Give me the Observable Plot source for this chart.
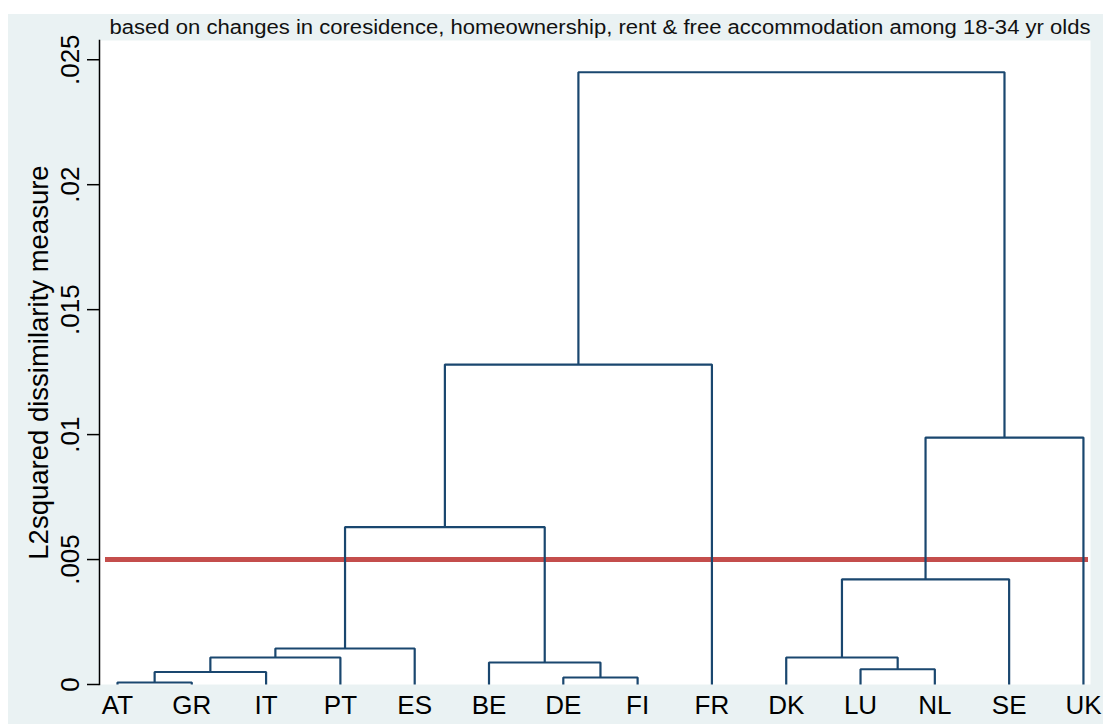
<!DOCTYPE html>
<html>
<head>
<meta charset="utf-8">
<script src="https://cdn.jsdelivr.net/npm/d3@7"></script>
<script src="https://cdn.jsdelivr.net/npm/@observablehq/plot@0.6"></script>
<style>
  html, body { margin: 0; padding: 0; background: #ffffff; }
  #chart { position: absolute; left: 8px; top: 14px; }
</style>
</head>
<body>
<div id="chart"></div>
<script>
// Leaves (dendrogram order)
const leaves = ["AT","GR","IT","PT","ES","BE","DE","FI","FR","DK","LU","NL","SE","UK"];
// Merges: ids m1..m13 in order
const mergeLeft   = ["AT","m1","m2","m3","DE","BE","m4","m7","LU","DK","m10","m11","m8"];
const mergeRight  = ["GR","IT","PT","ES","FI","m5","m6","FR","NL","m9","SE","UK","m12"];
const mergeHeight = [0.00008,0.0005,0.00108,0.00144,0.00028,0.00088,0.0063,0.0128,0.00061,0.00108,0.00421,0.00988,0.0245];
// Cut-off line
const cutLine = [0.005];
// Y ticks
const yTicks = [0, 0.005, 0.01, 0.015, 0.02, 0.025];
const yTickLabels = ["0", ".005", ".01", ".015", ".02", ".025"];
const titleText = "based on changes in coresidence, homeownership, rent & free accommodation among 18-34 yr olds";
const yLabel = "L2squared dissimilarity measure";

// Build dendrogram paths from the merge table
const pos = {};
leaves.forEach((c, i) => pos[c] = {x: i, h: 0});
const pts = [];
mergeHeight.forEach((h, i) => {
  const id = "m" + (i + 1);
  const l = pos[mergeLeft[i]], r = pos[mergeRight[i]];
  pos[id] = {x: (l.x + r.x) / 2, h};
  pts.push({g: id, x: l.x, y: l.h});
  pts.push({g: id, x: l.x, y: h});
  pts.push({g: id, x: r.x, y: h});
  pts.push({g: id, x: r.x, y: r.h});
});

const font = "'Liberation Sans', Arial, Helvetica, sans-serif";
const navy = "#1a476f";

const chart = Plot.plot({
  width: 1095,
  height: 710,
  marginLeft: 91,
  marginRight: 13,
  marginTop: 26,
  marginBottom: 40,
  style: {background: "#eaf2f3", fontFamily: font, color: "black"},
  x: {type: "linear", domain: [-0.242, 13.095]},
  y: {type: "linear", domain: [0, 0.02577]},
  marks: [
    Plot.frame({fill: "white", stroke: "none"}),
    Plot.ruleY(cutLine, {stroke: "#c44e4c", strokeWidth: 5, insetLeft: 6, insetRight: 2}),
    Plot.line(pts, {x: "x", y: "y", z: "g", stroke: navy, strokeWidth: 2.2, strokeLinejoin: "miter", strokeLinecap: "butt"}),
    Plot.frame({anchor: "left", stroke: "black", strokeWidth: 1.5}),
    Plot.axisY({
      ticks: yTicks,
      tickFormat: d => yTickLabels[yTicks.indexOf(d)],
      tickSize: 12,
      tickPadding: 9,
      tickRotate: -90,
      fontSize: 26,
      strokeWidth: 1.5,
      label: yLabel,
      labelAnchor: "center",
      labelOffset: 71,
      labelArrow: "none"
    }),
    Plot.axisX({
      ticks: d3.range(leaves.length),
      tickFormat: i => leaves[i],
      tickSize: 0,
      tickPadding: 11,
      fontSize: 26,
      label: null
    }),
    Plot.text([titleText], {
      frameAnchor: "top",
      text: d => d,
      textAnchor: "middle",
      lineAnchor: "bottom",
      dx: 5,
      dy: -7,
      fontSize: 20,
      fill: "#111"
    })
  ]
});

// stretch the title to the reference width; enlarge the axis title slightly
d3.select(chart).selectAll("text").filter(function() { return this.textContent === titleText; })
  .attr("textLength", 981).attr("lengthAdjust", "spacingAndGlyphs");
d3.select(chart).selectAll("text").filter(function() { return this.textContent === yLabel; })
  .attr("font-size", 27.5);

document.getElementById("chart").appendChild(chart);
</script>
</body>
</html>
